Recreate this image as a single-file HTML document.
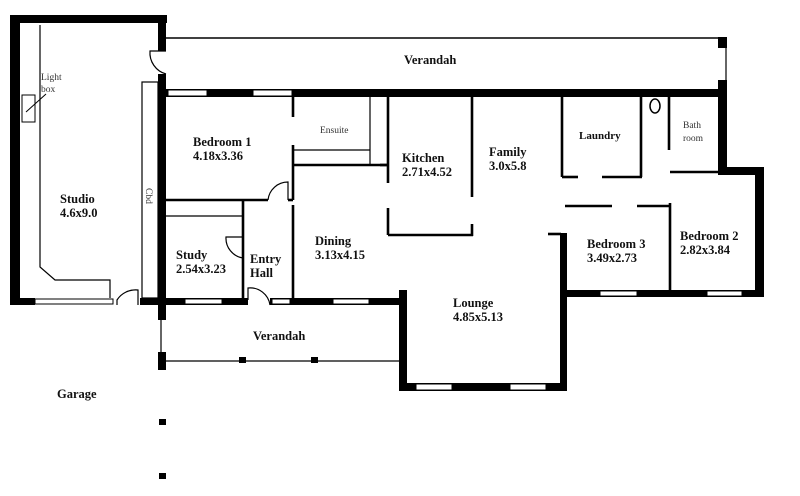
<!DOCTYPE html>
<html><head><meta charset="utf-8"><style>
html,body{margin:0;padding:0;background:#fff;}
svg{display:block;}
text{font-family:"Liberation Serif",serif;font-weight:bold;font-size:12.5px;fill:#111;}
.s{font-weight:normal;font-size:9.5px;fill:#333;}
</style></head><body>
<svg width="800" height="496" viewBox="0 0 800 496" xmlns="http://www.w3.org/2000/svg">
<g fill="#000">
<!-- studio walls -->
<rect x="10" y="15" width="157" height="8"/>
<rect x="10" y="15" width="10" height="290"/>
<rect x="158" y="15" width="8" height="36"/>
<rect x="158" y="74" width="8" height="246"/>
<rect x="10" y="298" width="25" height="7"/>
<rect x="140" y="298" width="26" height="7"/>
<!-- main top wall -->
<rect x="166" y="89" width="561" height="8"/>
<rect x="718" y="80" width="9" height="95"/>
<rect x="718" y="37" width="9" height="11"/>
<rect x="718" y="167" width="46" height="8"/>
<rect x="755" y="167" width="9" height="130"/>
<rect x="560" y="290" width="204" height="7"/>
<rect x="560" y="233" width="7" height="158"/>
<rect x="400" y="383" width="167" height="8"/>
<rect x="399" y="290" width="8" height="101"/>
<!-- lower front wall -->
<rect x="166" y="298" width="82" height="7"/>
<rect x="270" y="298" width="137" height="7"/>
<!-- verandah posts -->
<rect x="158" y="352" width="8" height="18"/>
<rect x="239" y="357" width="7" height="6"/>
<rect x="311" y="357" width="7" height="6"/>
<rect x="159" y="419" width="7" height="6"/>
<rect x="159" y="473" width="7" height="6"/>
</g>
<!-- windows -->
<g fill="#fff" stroke="#000" stroke-width="1">
<rect x="35" y="299" width="78" height="5"/>
<rect x="168" y="90" width="39" height="6"/>
<rect x="253" y="90" width="39" height="6"/>
<rect x="185" y="299" width="37" height="5"/>
<rect x="272" y="299" width="18" height="5"/>
<rect x="333" y="299" width="36" height="5"/>
<rect x="416" y="384" width="36" height="6"/>
<rect x="510" y="384" width="36" height="6"/>
<rect x="600" y="291" width="37" height="5"/>
<rect x="707" y="291" width="35" height="5"/>
</g>
<g stroke="#000" fill="none">
<!-- verandah top -->
<line x1="166" y1="38" x2="722" y2="38" stroke-width="1.5"/>
<line x1="726" y1="48" x2="726" y2="80" stroke-width="1.2"/>
<!-- studio inner -->
<path d="M40 25 V267 L55 280 H110 V298" stroke-width="1.2"/>
<rect x="22" y="95" width="13" height="27" stroke-width="1"/>
<line x1="26" y1="112" x2="46" y2="94" stroke-width="1"/>
<rect x="142" y="82" width="16" height="216" stroke-width="1.2"/>
<!-- doors -->
<path d="M166 51 H150 A22 22 0 0 0 166 74" stroke-width="1.2"/>
<path d="M117 305 V300 A22 22 0 0 1 138 290 V305" stroke-width="1.2"/>
<path d="M268 200 A20 20 0 0 1 288 182 V200" stroke-width="1.2"/>
<path d="M243 237 H226 A20 20 0 0 0 243 258" stroke-width="1.2"/>
<path d="M248 300 V288 A20 20 0 0 1 270 305" stroke-width="1.2"/>
<!-- interior walls -->
<g stroke-width="2.6">
<line x1="293" y1="97" x2="293" y2="117"/>
<line x1="293" y1="145" x2="293" y2="200"/>
<line x1="293" y1="205" x2="293" y2="300"/>
<line x1="166" y1="200" x2="268" y2="200"/>
<line x1="243" y1="200" x2="243" y2="300"/>
<line x1="288" y1="200" x2="293" y2="200"/>
<line x1="293" y1="165" x2="388" y2="165"/>
<line x1="388" y1="97" x2="388" y2="183"/>
<line x1="388" y1="208" x2="388" y2="235"/>
<line x1="388" y1="235" x2="473" y2="235"/>
<line x1="472" y1="97" x2="472" y2="197"/>
<line x1="472" y1="224" x2="472" y2="236"/>
<line x1="562" y1="97" x2="562" y2="177"/>
<line x1="562" y1="177" x2="578" y2="177"/>
<line x1="602" y1="177" x2="642" y2="177"/>
<line x1="641" y1="97" x2="641" y2="177"/>
<line x1="669" y1="97" x2="669" y2="150"/>
<line x1="670" y1="172" x2="718" y2="172"/>
<line x1="565" y1="206" x2="612" y2="206"/>
<line x1="637" y1="206" x2="671" y2="206"/>
<line x1="670" y1="203" x2="670" y2="291"/>
<line x1="548" y1="234" x2="561" y2="234"/>
<line x1="380" y1="165" x2="388" y2="165"/>
</g>
<g stroke-width="1.2">
<line x1="293" y1="150" x2="370" y2="150"/>
<line x1="370" y1="97" x2="370" y2="165"/>
<line x1="166" y1="216" x2="242" y2="216"/>
<line x1="161" y1="320" x2="161" y2="352"/>
<line x1="166" y1="361" x2="400" y2="361"/>
<ellipse cx="655" cy="106" rx="5" ry="7" stroke-width="1.5"/>
</g>
</g>
<!-- labels -->
<text x="404" y="64">Verandah</text>
<text x="193" y="146">Bedroom 1</text>
<text x="193" y="160">4.18x3.36</text>
<text class="s" x="320" y="133">Ensuite</text>
<text x="402" y="162">Kitchen</text>
<text x="402" y="176">2.71x4.52</text>
<text x="489" y="156">Family</text>
<text x="489" y="170">3.0x5.8</text>
<text x="579" y="139" style="font-size:11px">Laundry</text>
<text class="s" x="683" y="128">Bath</text>
<text class="s" x="683" y="141">room</text>
<text class="s" x="41" y="80">Light</text>
<text class="s" x="41" y="92">box</text>
<text x="60" y="203">Studio</text>
<text x="60" y="217">4.6x9.0</text>
<text class="s" x="0" y="0" transform="translate(146,188) rotate(90)">Cbd</text>
<text x="176" y="259">Study</text>
<text x="176" y="273">2.54x3.23</text>
<text x="250" y="263">Entry</text>
<text x="250" y="277">Hall</text>
<text x="315" y="245">Dining</text>
<text x="315" y="259">3.13x4.15</text>
<text x="587" y="248">Bedroom 3</text>
<text x="587" y="262">3.49x2.73</text>
<text x="680" y="240">Bedroom 2</text>
<text x="680" y="254">2.82x3.84</text>
<text x="453" y="307">Lounge</text>
<text x="453" y="321">4.85x5.13</text>
<text x="253" y="340">Verandah</text>
<text x="57" y="398">Garage</text>
</svg>
</body></html>
